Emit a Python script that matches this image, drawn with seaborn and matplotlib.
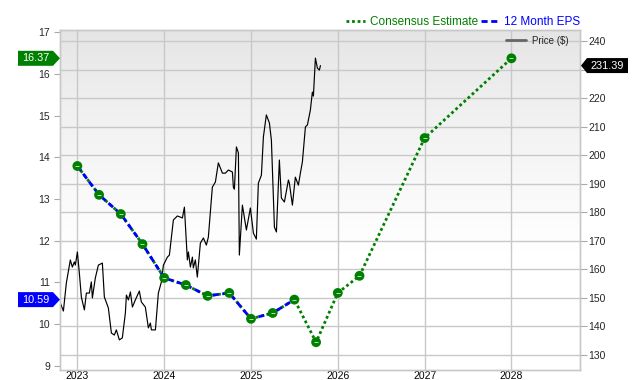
import matplotlib
matplotlib.use("Agg")
import matplotlib.pyplot as plt
from matplotlib.lines import Line2D
from matplotlib.patches import Polygon
import numpy as np
import pandas as pd
import seaborn as sns

# 12 month EPS (trailing, quarterly)
EPS_DATES = [2023.0, 2023.25, 2023.5, 2023.75, 2024.0, 2024.25, 2024.5, 2024.75, 2025.0, 2025.25, 2025.5]
EPS_VALUES = [13.79, 13.10, 12.64, 11.92, 11.11, 10.94, 10.68, 10.75, 10.13, 10.27, 10.59]

# consensus estimate
EST_DATES = [2025.5, 2025.75, 2026.0, 2026.25, 2027.0, 2028.0]
EST_VALUES = [10.59, 9.57, 10.75, 11.16, 14.46, 16.37]

# price ($)
PRICE_DATES = [
    2022.804, 2022.839, 2022.873, 2022.919, 2022.942, 2022.965, 2022.977, 2023.000, 2023.023, 2023.046,
    2023.081, 2023.104, 2023.138, 2023.161, 2023.173, 2023.207, 2023.242, 2023.288, 2023.311, 2023.357,
    2023.392, 2023.426, 2023.449, 2023.484, 2023.518, 2023.553, 2023.565, 2023.588, 2023.611, 2023.634,
    2023.668, 2023.714, 2023.737, 2023.783, 2023.818, 2023.841, 2023.853, 2023.899, 2023.933, 2023.968,
    2023.991, 2024.037, 2024.060, 2024.106, 2024.152, 2024.187, 2024.210, 2024.233, 2024.267, 2024.279,
    2024.302, 2024.325, 2024.336, 2024.359, 2024.382, 2024.417, 2024.452, 2024.486, 2024.509, 2024.555,
    2024.590, 2024.624, 2024.671, 2024.705, 2024.740, 2024.786, 2024.797, 2024.809, 2024.832, 2024.855,
    2024.866, 2024.901, 2024.947, 2024.993, 2025.028, 2025.062, 2025.085, 2025.120, 2025.143, 2025.177,
    2025.212, 2025.235, 2025.270, 2025.293, 2025.327, 2025.350, 2025.385, 2025.431, 2025.442, 2025.477,
    2025.511, 2025.546, 2025.569, 2025.592, 2025.627, 2025.650, 2025.684, 2025.707, 2025.719, 2025.742,
    2025.765, 2025.788, 2025.800,
]
PRICE_VALUES = [
    148.2, 145.4, 155.2, 163.3, 160.8, 162.6, 161.5, 166.1, 158.7, 150.3,
    145.8, 151.7, 151.7, 155.6, 150.0, 157.0, 161.5, 162.2, 150.3, 146.5,
    137.7, 137.0, 138.8, 135.3, 136.0, 144.7, 151.0, 149.3, 152.1, 146.8,
    149.3, 152.4, 148.6, 146.8, 139.5, 141.2, 138.8, 138.8, 151.7, 155.6,
    161.5, 164.3, 165.0, 177.3, 178.7, 178.3, 178.0, 181.8, 163.3, 166.1,
    160.8, 164.3, 160.5, 163.3, 157.3, 169.2, 171.0, 168.5, 171.3, 188.8,
    190.6, 197.3, 193.7, 193.7, 194.8, 194.1, 188.8, 188.1, 202.9, 200.8,
    165.0, 182.5, 173.8, 181.5, 172.7, 170.6, 190.2, 193.0, 206.4, 214.1,
    211.3, 205.3, 174.8, 173.1, 198.3, 185.0, 183.6, 191.3, 190.2, 182.5,
    192.3, 189.5, 193.7, 197.6, 209.9, 210.6, 215.8, 222.1, 220.7, 234.0,
    230.5, 229.8, 231.39,
]

YEAR_TICKS = [2023, 2024, 2025, 2026, 2027, 2028]
EPS_TICKS = [9, 10, 11, 12, 13, 14, 15, 16, 17]
PRICE_TICKS = [130, 140, 150, 160, 170, 180, 190, 200, 210, 220, 230, 240]
LAST_EPS = 10.59
LAST_EST = 16.37
LAST_PRICE = 231.39

GREEN = "#008000"
BLUE = "#0000ff"
GRID = "#c8c8c8"
W, H = 640, 380


def tag(fig, y_px, x0, x1, tip, text, color, point="right"):
    h = 7.5
    if point == "right":
        pts = [(x0, y_px - h), (x1, y_px - h), (tip, y_px), (x1, y_px + h), (x0, y_px + h)]
    else:
        pts = [(x1, y_px - h), (x0, y_px - h), (tip, y_px), (x0, y_px + h), (x1, y_px + h)]
    pts = [(px / W, py / H) for px, py in pts]
    fig.add_artist(Polygon(pts, closed=True, facecolor=color, edgecolor="none",
                           transform=fig.transFigure, zorder=10))
    cx = (x0 + x1) / 2
    fig.text(cx / W, y_px / H, text, ha="center", va="center", color="white",
             fontsize=7.8, zorder=11)


def main():
    sns.set_style("white")
    plt.rcParams["font.family"] = ["Liberation Sans", "DejaVu Sans"]

    fig = plt.figure(figsize=(6.4, 3.8), dpi=100)
    ax = fig.add_axes([60 / W, 10 / H, 520 / W, 340 / H])
    ax2 = ax.twinx()

    # background gradient: light grey at top fading to white
    t = np.linspace(0, 1, 256)
    shade = 0.895 + 0.105 * np.clip(t / 0.65, 0, 1) ** 0.8
    grad = np.repeat(shade[:, None, None], 3, axis=2)
    ax.imshow(grad, extent=[0, 1, 0, 1], transform=ax.transAxes,
              aspect="auto", zorder=0, origin="upper", interpolation="bilinear")

    price_df = pd.DataFrame({"date": PRICE_DATES, "price": PRICE_VALUES})
    sns.lineplot(data=price_df, x="date", y="price", ax=ax, color="black",
                 linewidth=0.85, errorbar=None, zorder=3)

    hist_df = pd.DataFrame({"date": EPS_DATES, "eps": EPS_VALUES})
    est_df = pd.DataFrame({"date": EST_DATES, "eps": EST_VALUES})
    all_df = pd.concat([hist_df, est_df.iloc[1:]], ignore_index=True)

    sns.lineplot(data=all_df, x="date", y="eps", ax=ax2, color=GREEN, linewidth=2.0,
                 linestyle=(0, (1, 1)), errorbar=None, zorder=3)
    sns.lineplot(data=hist_df, x="date", y="eps", ax=ax2, color=BLUE, linewidth=2.0,
                 linestyle=(0, (2.2, 1.3)), errorbar=None, zorder=4)
    sns.scatterplot(data=all_df, x="date", y="eps", ax=ax2, color=GREEN, s=50,
                    edgecolor="none", zorder=5)
    sns.scatterplot(data=all_df, x="date", y="eps", ax=ax2, color="#b8dcb8",
                    edgecolor="#b8dcb8", s=7, marker="_", linewidth=0.7, zorder=6)

    ax.set_xlim(2022.80, 2028.79)
    ax.set_ylim(124.75, 243.85)
    ax2.set_ylim(8.904, 17.048)

    ax.set_xticks(YEAR_TICKS)
    ax.set_xticklabels([str(y) for y in YEAR_TICKS])
    ax.set_yticks(PRICE_TICKS)
    # the 230 label sits under the last-price tag
    ax.set_yticklabels(["" if p == 230 else str(p) for p in PRICE_TICKS])
    ax2.set_yticks(EPS_TICKS)

    ax.yaxis.set_ticks_position("right")
    ax.yaxis.set_label_position("right")
    ax2.yaxis.set_ticks_position("left")
    ax2.yaxis.set_label_position("left")

    ax.grid(True, color=GRID, linewidth=1.0)
    ax2.grid(False)
    ax.set_axisbelow(True)
    for a in (ax, ax2):
        a.set_xlabel("")
        a.set_ylabel("")
        for sp in a.spines.values():
            sp.set_color(GRID)
            sp.set_linewidth(1.0)
    ax.tick_params(axis="x", length=0, pad=1.0, labelsize=7.5, colors="black")
    ax.tick_params(axis="y", length=5, pad=1, labelsize=7.5, color="#aaaaaa",
                   right=True, left=False, labelright=True, labelleft=False)
    ax2.tick_params(axis="y", length=4, pad=3, labelsize=7.5, color="#aaaaaa",
                    left=True, right=False, labelleft=True, labelright=False)

    # legends
    handles = [
        Line2D([], [], color=GREEN, linewidth=2.0, linestyle=(0, (1, 1))),
        Line2D([], [], color=BLUE, linewidth=2.0, linestyle=(0, (2.2, 1.3))),
    ]
    leg = ax2.legend(handles, ["Consensus Estimate", "12 Month EPS"], loc="lower right",
                     bbox_to_anchor=(1.005, 1.0), ncol=2, frameon=False, fontsize=8.5,
                     handlelength=1.6, handletextpad=0.4, columnspacing=0.2,
                     borderaxespad=0.1, borderpad=0.1)
    for txt, c in zip(leg.get_texts(), [GREEN, BLUE]):
        txt.set_color(c)
    ax.legend([Line2D([], [], color="#666666", linewidth=2.0)], ["Price ($)"],
              loc="upper right", bbox_to_anchor=(0.985, 0.995), frameon=False,
              fontsize=7, handlelength=2.0, handletextpad=0.6,
              borderaxespad=0.2, borderpad=0.2)

    # value tags
    fig.canvas.draw()
    y_est = ax2.transData.transform((2025, LAST_EST))[1]
    y_eps = ax2.transData.transform((2025, LAST_EPS))[1]
    y_price = ax.transData.transform((2025, LAST_PRICE))[1]
    tag(fig, y_est, 18, 53, 60, f"{LAST_EST:.2f}", GREEN)
    tag(fig, y_eps, 18, 53, 60, f"{LAST_EPS:.2f}", BLUE)
    tag(fig, y_price, 587, 628, 581, f"{LAST_PRICE:.2f}", "black", point="left")

    fig.savefig("out.png", dpi=100)
    plt.close(fig)


if __name__ == "__main__":
    main()
